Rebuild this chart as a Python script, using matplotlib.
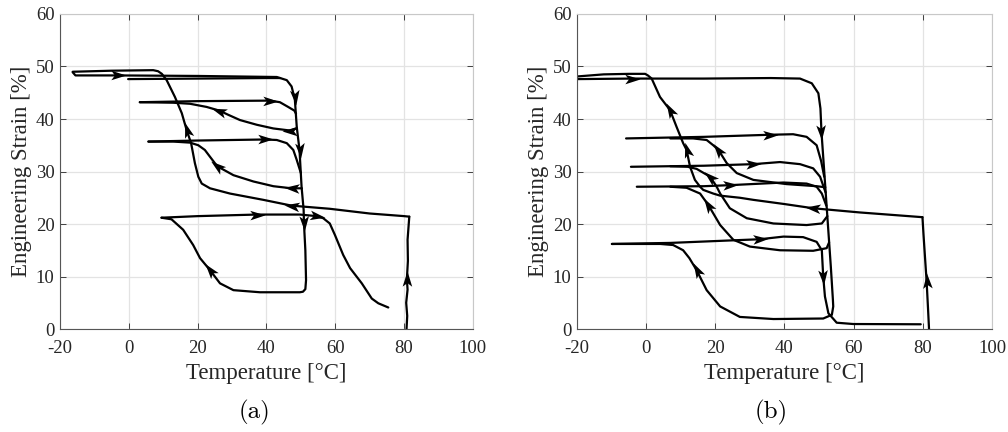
import numpy as np
import matplotlib
matplotlib.use("Agg")
import matplotlib.pyplot as plt
from matplotlib.markers import MarkerStyle
from matplotlib.path import Path
from matplotlib.transforms import Affine2D

plt.rcParams['font.family'] = ['Liberation Serif', 'DejaVu Serif']
plt.rcParams['axes.unicode_minus'] = False

# ---------------- data: panel (a) ----------------
a_load_T = [80.7, 80.9, 80.6, 81.0, 80.8, 81.1, 81.0, 81.5]
a_load_S = [0.0, 2.5, 5.0, 7.5, 9.5, 13.0, 17.0, 21.4]
a_cool_T = [81.5, 80.0, 70.0, 58.4, 47.3, 39.1, 29.4, 23.6, 21.2, 20.2, 19.2, 18.1, 16.8, 15.4, 13.4, 11.0, 9.6, 8.5, 7.1, -5.0, -16.3]
a_cool_S = [21.4, 21.5, 22.0, 22.9, 23.5, 24.6, 25.8, 26.8, 27.7, 29.0, 31.6, 35.4, 37.9, 41.1, 44.2, 47.4, 48.6, 49.1, 49.3, 49.2, 49.0]
a_heat1_T = [-16.3, -15.5, -3.0, 20.0, 43.0, 45.9, 47.3, 47.8, 48.2, 48.8, 49.6, 50.2, 50.8, 50.9, 51.3, 51.5, 51.3, 50.6, 49.7, 38.1, 30.4, 26.5, 23.6, 20.7, 18.7, 15.8, 12.4, 9.5]
a_heat1_S = [48.9, 48.3, 48.3, 48.2, 48.0, 47.4, 46.2, 44.9, 44.2, 38.5, 34.1, 27.1, 22.7, 20.1, 15.0, 9.3, 7.6, 7.1, 7.0, 7.0, 7.4, 8.7, 11.2, 13.5, 16.0, 18.9, 20.9, 21.2]
a_heat2_T = [9.5, 20.0, 37.2, 49.7, 54.6, 56.5, 58.4, 59.9, 62.3, 64.3, 67.7, 70.6, 72.5, 75.4]
a_heat2_S = [21.2, 21.5, 21.8, 21.8, 21.5, 21.1, 20.1, 17.9, 14.1, 11.6, 8.7, 5.8, 4.9, 4.1]
a_top2_T = [-0.2, 20.0, 40.0, 44.0]
a_top2_S = [47.6, 47.7, 47.8, 47.8]
a_l1h_T = [3.2, 20.0, 41.0, 43.9, 46.3, 48.1, 48.6]
a_l1h_S = [43.2, 43.4, 43.5, 43.2, 42.3, 41.6, 41.0]
a_l1c_T = [48.8, 46.9, 42.0, 37.2, 32.3, 28.9, 26.3, 22.6, 17.8, 12.9, 3.2]
a_l1c_S = [38.2, 37.8, 38.2, 38.9, 39.8, 40.8, 41.6, 42.3, 42.9, 43.1, 43.2]
a_l2h_T = [5.7, 20.0, 39.6, 43.0, 45.9, 47.8, 48.8, 50.0]
a_l2h_S = [35.7, 35.9, 36.1, 36.0, 35.4, 34.1, 32.2, 29.7]
a_l2c_T = [50.3, 47.3, 42.0, 36.2, 30.4, 25.7, 23.6, 22.1, 20.2, 17.8, 12.9, 5.7]
a_l2c_S = [26.8, 26.8, 27.2, 28.1, 29.3, 31.0, 32.8, 34.1, 35.0, 35.5, 35.7, 35.7]

# ---------------- data: panel (b) ----------------
b_load_T = [81.8, 81.5, 81.1, 80.6, 80.2, 79.9]
b_load_S = [0.0, 4.0, 9.1, 14.0, 18.0, 21.3]
b_cool_T = [79.9, 61.8, 48.3, 40.0, 31.0, 27.1, 21.4, 19.4, 16.5, 15.6, 14.1, 12.7, 11.7, 10.7, 8.8, 6.9, 4.0, 1.6, 0.5, -0.3, -5.0, -12.3, -20.0]
b_cool_S = [21.3, 22.2, 23.0, 23.8, 24.6, 25.0, 25.4, 25.8, 26.5, 27.1, 28.4, 30.9, 34.1, 35.4, 38.5, 41.7, 44.2, 47.7, 48.3, 48.6, 48.6, 48.5, 48.1]
b_heat1_T = [-20.0, -4.2, 16.7, 36.0, 44.5, 47.9, 49.8, 50.4, 50.7, 51.4, 52.4, 53.4, 54.0, 54.1, 53.7, 51.2, 36.8, 27.1, 21.4, 17.5, 14.6, 12.5, 10.7, 7.8, 4.1, -9.9]
b_heat1_S = [47.6, 47.7, 47.7, 47.8, 47.7, 46.8, 44.9, 42.0, 37.5, 30.9, 21.4, 11.9, 5.6, 4.3, 2.7, 2.0, 1.9, 2.3, 4.3, 7.4, 11.2, 13.5, 15.0, 16.0, 16.2, 16.2]
b_heat2_T = [-9.9, 7.0, 32.9, 39.7, 45.4, 49.3, 50.8, 51.2, 51.7, 52.7, 55.1, 59.9, 79.4]
b_heat2_S = [16.2, 16.4, 17.1, 17.6, 17.5, 16.6, 15.0, 10.0, 6.2, 3.0, 1.2, 0.95, 0.9]
b_l1h_T = [-5.8, 16.7, 35.8, 42.5, 46.4, 49.3, 50.6, 51.5]
b_l1h_S = [36.3, 36.6, 37.0, 37.1, 36.6, 35.0, 32.0, 29.0]
b_l1c_T = [51.8, 49.3, 40.6, 31.0, 26.2, 23.3, 20.9, 19.4, 17.5, 13.6, 7.0]
b_l1c_S = [27.0, 27.2, 27.6, 28.4, 29.7, 31.6, 34.1, 35.0, 36.0, 36.3, 36.3]
b_l2h_T = [-4.4, 16.7, 31.0, 38.7, 44.5, 48.3, 50.3, 51.9]
b_l2h_S = [30.9, 31.1, 31.4, 31.8, 31.4, 30.6, 29.0, 26.0]
b_l2c_T = [52.4, 50.8, 46.4, 36.8, 29.1, 24.2, 21.4, 20.4, 18.5, 14.6, 12.0, 7.0]
b_l2c_S = [21.5, 20.1, 19.8, 20.1, 21.1, 23.0, 25.8, 27.1, 29.0, 30.5, 30.9, 31.0]
b_l3h_T = [-2.7, 16.7, 24.2, 39.7, 46.4, 49.3, 50.8, 52.1]
b_l3h_S = [27.1, 27.2, 27.4, 27.9, 27.7, 27.1, 25.8, 23.5]
b_l3c_T = [52.9, 52.2, 48.3, 38.7, 30.0, 25.2, 21.4, 18.0, 15.6, 11.7, 7.0]
b_l3c_S = [16.5, 15.4, 14.9, 15.0, 15.7, 17.0, 19.8, 23.6, 25.8, 26.9, 27.1]

# paths with the indices of the points that carry a direction arrow
panel_a = [
    (a_load_T, a_load_S, [4]),
    (a_cool_T, a_cool_S, [4, 12]),
    (a_heat1_T, a_heat1_S, [2, 8, 10, 13, 22]),
    (a_heat2_T, a_heat2_S, [2, 4]),
    (a_top2_T, a_top2_S, []),
    (a_l1h_T, a_l1h_S, [2]),
    (a_l1c_T, a_l1c_S, [1, 6]),
    (a_l2h_T, a_l2h_S, [2]),
    (a_l2c_T, a_l2c_S, [1, 5]),
]
panel_b = [
    (b_load_T, b_load_S, [2]),
    (b_cool_T, b_cool_S, [2, 12, 15]),
    (b_heat1_T, b_heat1_S, [1, 8, 20]),
    (b_heat2_T, b_heat2_S, [2, 7]),
    (b_l1h_T, b_l1h_S, [2]),
    (b_l1c_T, b_l1c_S, [6]),
    (b_l2h_T, b_l2h_S, [2]),
    (b_l2c_T, b_l2c_S, [8]),
    (b_l3h_T, b_l3h_S, [2]),
    (b_l3c_T, b_l3c_S, [7]),
]

x_ticks = [-20, 0, 20, 40, 60, 80, 100]
y_ticks = [0, 10, 20, 30, 40, 50, 60]

head = Path([(1.0, 0.0), (-0.9, 0.6), (-0.45, 0.0), (-0.9, -0.6), (1.0, 0.0)],
            [Path.MOVETO, Path.LINETO, Path.LINETO, Path.LINETO, Path.CLOSEPOLY])

fig = plt.figure(figsize=(10.08, 4.32), dpi=100)
axes_boxes = [[0.0595, 0.2384, 0.4097, 0.7292], [0.5724, 0.2384, 0.4117, 0.7292]]
captions = ['(a)', '(b)']
caption_x = [0.252, 0.765]

for box, paths, cap, cx in zip(axes_boxes, [panel_a, panel_b], captions, caption_x):
    ax = fig.add_axes(box)
    ax.set_xlim(-20, 100)
    ax.set_ylim(0, 60)
    ax.set_xticks(x_ticks)
    ax.set_yticks(y_ticks)
    ax.grid(True, color='#e3e3e3', lw=0.9)
    ax.set_axisbelow(True)
    ax.tick_params(direction='in', top=True, right=True, length=4, width=0.6,
                   labelsize=13.5, colors='#262626')
    ax.tick_params(axis='x', pad=8)
    ax.tick_params(axis='y', pad=4)
    for s in ['left', 'bottom']:
        ax.spines[s].set_color('#555555')
        ax.spines[s].set_linewidth(0.8)
    for s in ['top', 'right']:
        ax.spines[s].set_color('#c8c8c8')
        ax.spines[s].set_linewidth(0.8)
    ax.set_xlabel('Temperature [°C]', fontsize=16.5, color='#262626', labelpad=4)
    ax.set_ylabel('Engineering Strain [%]', fontsize=16.5, color='#262626', labelpad=3)
    for T, S, arrows in paths:
        ax.plot(T, S, color='black', lw=1.6, solid_joinstyle='round', solid_capstyle='round')
    fig.canvas.draw()
    for T, S, arrows in paths:
        pts = ax.transData.transform(np.column_stack([T, S]))
        for k in arrows:
            i0 = max(k - 1, 0)
            i1 = min(k + 1, len(T) - 1)
            d = pts[i1] - pts[i0]
            ang = np.degrees(np.arctan2(d[1], d[0]))
            m = MarkerStyle(head, transform=Affine2D().rotate_deg(ang))
            ax.plot([T[k]], [S[k]], marker=m, markersize=11.5, color='black',
                    markeredgewidth=0, linestyle='none')
    fig.text(cx, 0.046, cap, fontsize=18, family=['cmr10', 'DejaVu Serif'],
             ha='center', va='center')

fig.savefig('out.png', dpi=100)
